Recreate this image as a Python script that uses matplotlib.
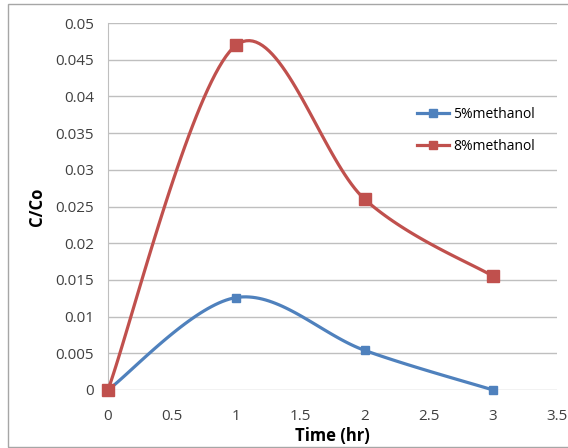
import numpy as np
import matplotlib.pyplot as plt
from matplotlib.patches import Rectangle

# datos
tiempo = [0, 1, 2, 3]
metanol_5 = [0, 0.0126, 0.0054, 0]
metanol_8 = [0, 0.047, 0.026, 0.0155]
etiquetas = ["5%methanol", "8%methanol"]
colores = ["#4F81BD", "#C0504D"]


def suavizar(x, y, n=40):
    # curva bezier tipo excel (catmull-rom)
    x = np.asarray(x, float)
    y = np.asarray(y, float)
    px = np.concatenate([[x[0]], x, [x[-1]]])
    py = np.concatenate([[y[0]], y, [y[-1]]])
    t = np.linspace(0, 1, n)
    xs, ys = [], []
    for i in range(1, len(px) - 2):
        p0 = np.array([px[i], py[i]])
        p3 = np.array([px[i + 1], py[i + 1]])
        c1 = p0 + (np.array([px[i + 1], py[i + 1]]) - np.array([px[i - 1], py[i - 1]])) / 6
        c2 = p3 - (np.array([px[i + 2], py[i + 2]]) - np.array([px[i], py[i]])) / 6
        b = ((1 - t) ** 3)[:, None] * p0 + (3 * (1 - t) ** 2 * t)[:, None] * c1 \
            + (3 * (1 - t) * t ** 2)[:, None] * c2 + (t ** 3)[:, None] * p3
        xs.extend(b[:, 0])
        ys.extend(b[:, 1])
    return xs, ys


plt.rcParams['font.family'] = ['Open Sans', 'DejaVu Sans']

fig = plt.figure(figsize=(5.68, 4.48), dpi=100)
ax = fig.add_axes([0.190, 0.1295, 0.791, 0.819])

tamanos = [6, 8]
for datos, lab, col, ms in zip([metanol_5, metanol_8], etiquetas, colores, tamanos):
    xs, ys = suavizar(tiempo, datos)
    ax.plot(xs, ys, color=col, lw=2.3, zorder=3, clip_on=False)
    ax.plot(tiempo, datos, ls="none", marker="s", ms=ms, color=col, zorder=4, clip_on=False)
    ax.plot([], [], color=col, lw=2.3, marker="s", ms=6, label=lab)

ax.set_xlim(0, 3.5)
ax.set_ylim(0, 0.05)
ax.set_xticks(np.arange(0, 3.51, 0.5))
ax.set_xticklabels(["0", "0.5", "1", "1.5", "2", "2.5", "3", "3.5"])
ax.set_yticks(np.arange(0, 0.0501, 0.005))
ax.set_yticklabels(["0", "0.005", "0.01", "0.015", "0.02", "0.025", "0.03",
                    "0.035", "0.04", "0.045", "0.05"])
ax.grid(axis="y", color="#BFBFBF", lw=1)
ax.set_axisbelow(True)
for s in ["top", "right", "bottom"]:
    ax.spines[s].set_visible(False)
ax.spines["left"].set_color("#BFBFBF")
ax.tick_params(length=0, labelsize=11, colors="#404040")
ax.tick_params(axis="x", pad=14)
ax.tick_params(axis="y", pad=10)
ax.set_xlabel("Time (hr)", fontsize=12, fontweight="bold", labelpad=2)
ax.set_ylabel("C/Co", fontsize=12, fontweight="bold", labelpad=7)

ax.legend(loc="upper left", bbox_to_anchor=(0.66, 0.805), frameon=False,
          fontsize=10, handlelength=2.3, labelspacing=1.2, handletextpad=0.3)

fig.patches.append(Rectangle((8 / 568, 1 / 448), 600 / 568, 443 / 448,
                             transform=fig.transFigure, fill=False,
                             edgecolor="#A6A6A6", lw=1))

fig.savefig("out.png", dpi=100)
